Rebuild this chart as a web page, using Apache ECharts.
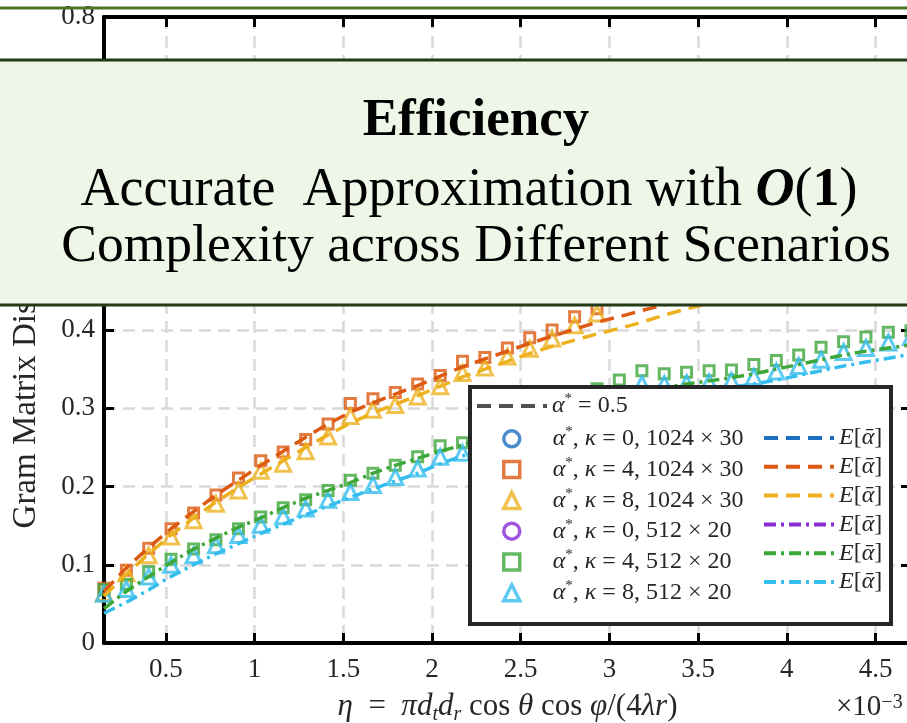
<!DOCTYPE html>
<html><head><meta charset="utf-8">
<script src="https://cdn.jsdelivr.net/npm/echarts@6/dist/echarts.min.js"></script>
<style>html,body{margin:0;padding:0;background:#fff}#c{width:907px;height:723px}</style>
</head><body><div id="c"></div>
<script>
// eta values (units of 1e-3)
const etaX = [0.151,0.277,0.403,0.529,0.656,0.782,0.909,1.035,1.161,1.288,1.414,1.540,1.667,1.793,1.919,2.046,2.172,2.298,2.425,2.551,2.677,2.804,2.930,3.056,3.183,3.309,3.435,3.562,3.688,3.814,3.941,4.067,4.193,4.320,4.446,4.572,4.700];
const xTicks = [0.5,1,1.5,2,2.5,3,3.5,4,4.5];
const yTicks = [0,0.1,0.2,0.3,0.4,0.5,0.6,0.7,0.8];
// markers: alpha* measured
const k0_1024 = [];
const k4_1024 = [0.070,0.093,0.121,0.146,0.166,0.189,0.211,0.233,0.244,0.260,0.280,0.306,0.312,0.320,0.331,0.342,0.360,0.365,0.377,0.390,0.400,0.417,0.427];
const k8_1024 = [0.064,0.089,0.112,0.136,0.157,0.178,0.195,0.220,0.229,0.245,0.264,0.290,0.298,0.304,0.315,0.328,0.345,0.352,0.366,0.376,0.389,0.406,0.421];
const k0_512 = [];
const k4_512 = [0.068,0.075,0.091,0.107,0.120,0.132,0.146,0.161,0.173,0.183,0.195,0.208,0.217,0.227,0.238,0.252,0.256,0.267,0.279,0.290,0.302,0.313,0.325,0.336,0.348,0.344,0.346,0.348,0.349,0.356,0.361,0.368,0.378,0.385,0.391,0.397,0.399];
const k8_512 = [0.063,0.069,0.085,0.100,0.112,0.125,0.138,0.151,0.162,0.172,0.183,0.193,0.202,0.212,0.223,0.238,0.243,0.253,0.263,0.273,0.284,0.294,0.305,0.316,0.331,0.331,0.332,0.333,0.335,0.340,0.347,0.354,0.362,0.372,0.377,0.384,0.391];
// lines: E[alpha bar]
const E_k0_1024 = [];
const E_k4_1024 = [0.066,0.096,0.122,0.146,0.168,0.189,0.208,0.227,0.245,0.263,0.280,0.295,0.307,0.318,0.329,0.341,0.353,0.363,0.373,0.383,0.392,0.401,0.410,0.417,0.425,0.432,0.440];
const E_k8_1024 = [0.060,0.088,0.114,0.138,0.160,0.180,0.199,0.216,0.233,0.250,0.266,0.281,0.294,0.305,0.316,0.328,0.340,0.350,0.360,0.370,0.379,0.387,0.395,0.402,0.410,0.419,0.427,0.434];
const E_k0_512 = [];
const E_k4_512 = [0.044,0.066,0.085,0.103,0.120,0.134,0.148,0.160,0.173,0.185,0.195,0.205,0.217,0.227,0.236,0.245,0.253,0.262,0.271,0.280,0.289,0.298,0.306,0.313,0.320,0.326,0.331,0.335,0.339,0.344,0.350,0.356,0.362,0.368,0.373,0.377,0.381];
const E_k8_512 = [0.038,0.052,0.068,0.085,0.100,0.114,0.127,0.140,0.152,0.164,0.175,0.186,0.197,0.207,0.217,0.229,0.239,0.248,0.257,0.265,0.273,0.281,0.289,0.297,0.304,0.311,0.317,0.322,0.327,0.331,0.336,0.342,0.348,0.354,0.359,0.364,0.369];
const alphaRef = [0.5, 0.5];
const alphaRefX = [0.151, 4.700];

const C = {blue:'#1E6FC0', orange:'#DC5A12', yellow:'#EDB120', purple:'#8A2BD6', green:'#3DA639', cyan:'#35BDEE', gray:'#505050'};
const pair = (xs, ys) => ys.map((y, i) => [xs[i], y]);
const FF = 'Liberation Serif';
const dashed = [14, 8];
const dashdot = [12, 5, 3, 5];

const scatterDefs = [
  ['α*, κ = 0, 1024 × 30', k0_1024, 'circle', 12, C.blue],
  ['α*, κ = 4, 1024 × 30', k4_1024, 'rect', 10, C.orange],
  ['α*, κ = 8, 1024 × 30', k8_1024, 'triangle', 15, C.yellow],
  ['α*, κ = 0, 512 × 20', k0_512, 'circle', 12, C.purple],
  ['α*, κ = 4, 512 × 20', k4_512, 'rect', 10, C.green],
  ['α*, κ = 8, 512 × 20', k8_512, 'triangle', 15, C.cyan]
];
const lineDefs = [
  ['E[ᾱ], κ = 0, 1024 × 30', E_k0_1024, dashed, C.blue],
  ['E[ᾱ], κ = 4, 1024 × 30', E_k4_1024, dashed, C.orange],
  ['E[ᾱ], κ = 8, 1024 × 30', E_k8_1024, dashed, C.yellow],
  ['E[ᾱ], κ = 0, 512 × 20', E_k0_512, dashdot, C.purple],
  ['E[ᾱ], κ = 4, 512 × 20', E_k4_512, dashdot, C.green],
  ['E[ᾱ], κ = 8, 512 × 20', E_k8_512, dashdot, C.cyan]
];
const series = [];
series.push({name:'α* = 0.5', type:'line', data: pair(alphaRefX, alphaRef), symbol:'none',
  lineStyle:{color:C.gray, width:3.5, type:dashed}, itemStyle:{color:C.gray}, z:2});
scatterDefs.forEach(d => series.push({name:d[0], type:'scatter', data: pair(etaX, d[1]),
  symbol:d[2], symbolSize:d[3], symbolKeepAspect:true,
  itemStyle:{color:'rgba(255,255,255,0)', borderColor:d[4], borderWidth:3}, z:3}));
lineDefs.forEach(d => series.push({name:d[0], type:'line', data: pair(etaX, d[1]), symbol:'none', showSymbol:false,
  lineStyle:{color:d[3], width:3.5, type:d[2]}, itemStyle:{color:d[3]}, z:4}));

const richLegend = {
  sp:{width:28, lineHeight:28},
  g:{fontFamily:FF, fontStyle:'italic', fontSize:24, lineHeight:28, color:'#262626'},
  t:{fontFamily:FF, fontSize:24, lineHeight:28, color:'#262626'},
  s:{fontFamily:FF, fontSize:15, lineHeight:15, verticalAlign:'top', color:'#262626'}
};
function legendFmt(name){
  if (name === 'α* = 0.5') return '{g|α}{s|*}{t| = 0.5}';
  if (name.indexOf('E[') === 0) return '{g|E}{t|[}{g|ᾱ}{t|]}';
  const m = name.match(/κ = (\d), (.*)$/);
  return '{sp|}{g|α}{s|*}{t|, }{g|κ}{t| = ' + m[1] + ', ' + m[2] + '}';
}
const legendBase = {orient:'vertical', padding:0, itemWidth:70, itemHeight:16, itemGap:4.8, selectedMode:false, z:10,
  formatter: legendFmt, textStyle:{fontFamily:FF, fontSize:24, color:'#262626', rich:richLegend},
  itemStyle:{borderWidth:3.5}, lineStyle:{width:4}};
const hideSym = n => ({name:n, itemStyle:{opacity:0, borderWidth:0}});

const axisCommonX = {type:'value', min:0.151, max:4.7, splitNumber:9};
const xName = '{i|η}{t|  =  }{i|πd}{b|t}{i|d}{b|r}{t| cos }{i|θ}{t| cos }{i|φ}{t|/(4}{i|λr}{t|)}';
const xRich = {
  i:{fontFamily:FF, fontStyle:'italic', fontSize:31, lineHeight:36, color:'#262626'},
  t:{fontFamily:FF, fontSize:31, lineHeight:36, color:'#262626'},
  b:{fontFamily:FF, fontStyle:'italic', fontSize:20, lineHeight:20, verticalAlign:'bottom', color:'#262626'}
};

const option = {
  animation:false,
  backgroundColor:'#ffffff',
  grid:{left:104, right:-4, top:17, bottom:80, containLabel:false, outerBoundsMode:'none'},
  legend:[
    Object.assign({}, legendBase, {left:475, top:392, data:[hideSym('α* = 0.5')]}),
    Object.assign({}, legendBase, {left:502, top:424.8, itemWidth:16, data:scatterDefs.map(d=>d[0])}),
    Object.assign({}, legendBase, {left:762, top:426, data:lineDefs.map(d=>hideSym(d[0]))})
  ],
  xAxis:[
    Object.assign({}, axisCommonX, {position:'bottom', name:xName, nameLocation:'middle', nameGap:46,
      nameTextStyle:{rich:xRich},
      axisLine:{show:true, onZero:false, lineStyle:{color:'#000', width:4}},
      axisTick:{show:true, inside:true, length:10, lineStyle:{color:'#000', width:3}},
      axisLabel:{show:true, margin:13, showMinLabel:false, showMaxLabel:false, fontFamily:FF, fontSize:27, color:'#262626',
        formatter: v => (xTicks.indexOf(Math.round(v*1000)/1000) >= 0 ? String(Math.round(v*1000)/1000) : '')},
      splitLine:{show:true, lineStyle:{color:'#d9d9d9', width:2.5, type:[12,7]}}}),
    Object.assign({}, axisCommonX, {position:'top',
      axisLine:{show:true, onZero:false, lineStyle:{color:'#000', width:4}},
      axisTick:{show:true, inside:true, length:10, lineStyle:{color:'#000', width:3}},
      axisLabel:{show:false}, splitLine:{show:false}})
  ],
  yAxis:[
    {type:'value', min:0, max:0.8, interval:0.1, position:'left',
      name:'Gram Matrix Distance', nameLocation:'middle', nameGap:61,
      nameTextStyle:{fontFamily:FF, fontSize:33, color:'#262626', padding:[0,100,0,0]},
      axisLine:{show:true, onZero:false, lineStyle:{color:'#000', width:4}},
      axisTick:{show:true, inside:true, length:10, lineStyle:{color:'#000', width:3}},
      axisLabel:{show:true, margin:9, fontFamily:FF, fontSize:27, color:'#262626',
        formatter: v => String(Math.round(v*10)/10)},
      splitLine:{show:true, lineStyle:{color:'#d9d9d9', width:2.5, type:[12,7]}}},
    {type:'value', min:0, max:0.8, interval:0.1, position:'right',
      axisLine:{show:true, onZero:false, lineStyle:{color:'#000', width:4}},
      axisTick:{show:true, inside:true, length:10, lineStyle:{color:'#000', width:3}},
      axisLabel:{show:false}, splitLine:{show:false}}
  ],
  series: series,
  graphic:[
    {type:'rect', z:6, silent:true, shape:{x:470, y:387, width:421, height:237}, style:{fill:'#ffffff', stroke:'#262626', lineWidth:4}},
    {type:'text', z:6, silent:true, x:836, y:707, style:{text:'×10{s|−3}', fontFamily:FF, fontSize:29, fill:'#262626', verticalAlign:'middle',
      rich:{s:{fontFamily:FF, fontSize:20, lineHeight:20, verticalAlign:'top', fill:'#262626'}}}},
    {type:'rect', z:100, silent:true, shape:{x:-10, y:60, width:930, height:245}, style:{fill:'#EEF6E7', stroke:'#223A16', lineWidth:3}},
    {type:'rect', z:100, silent:true, shape:{x:-10, y:6.5, width:930, height:3}, style:{fill:'#4B7626'}},
    {type:'text', z:101, silent:true, x:476, y:121, style:{text:'Efficiency', fontFamily:FF, fontWeight:'bold', fontSize:53, fill:'#000', align:'center', verticalAlign:'middle'}},
    {type:'text', z:101, silent:true, x:469, y:191, style:{text:'Accurate  Approximation with {bi|O}({b|1})', fontFamily:FF, fontSize:54, fill:'#000', align:'center', verticalAlign:'middle',
      rich:{bi:{fontFamily:FF, fontWeight:'bold', fontStyle:'italic', fontSize:54, fill:'#000'}, b:{fontFamily:FF, fontWeight:'bold', fontSize:54, fill:'#000'}}}},
    {type:'text', z:101, silent:true, x:476, y:247, style:{text:'Complexity across Different Scenarios', fontFamily:FF, fontSize:53.5, fill:'#000', align:'center', verticalAlign:'middle'}}
  ]
};
const chart = echarts.init(document.getElementById('c'), null, {renderer:'canvas'});
chart.setOption(option);
</script></body></html>
